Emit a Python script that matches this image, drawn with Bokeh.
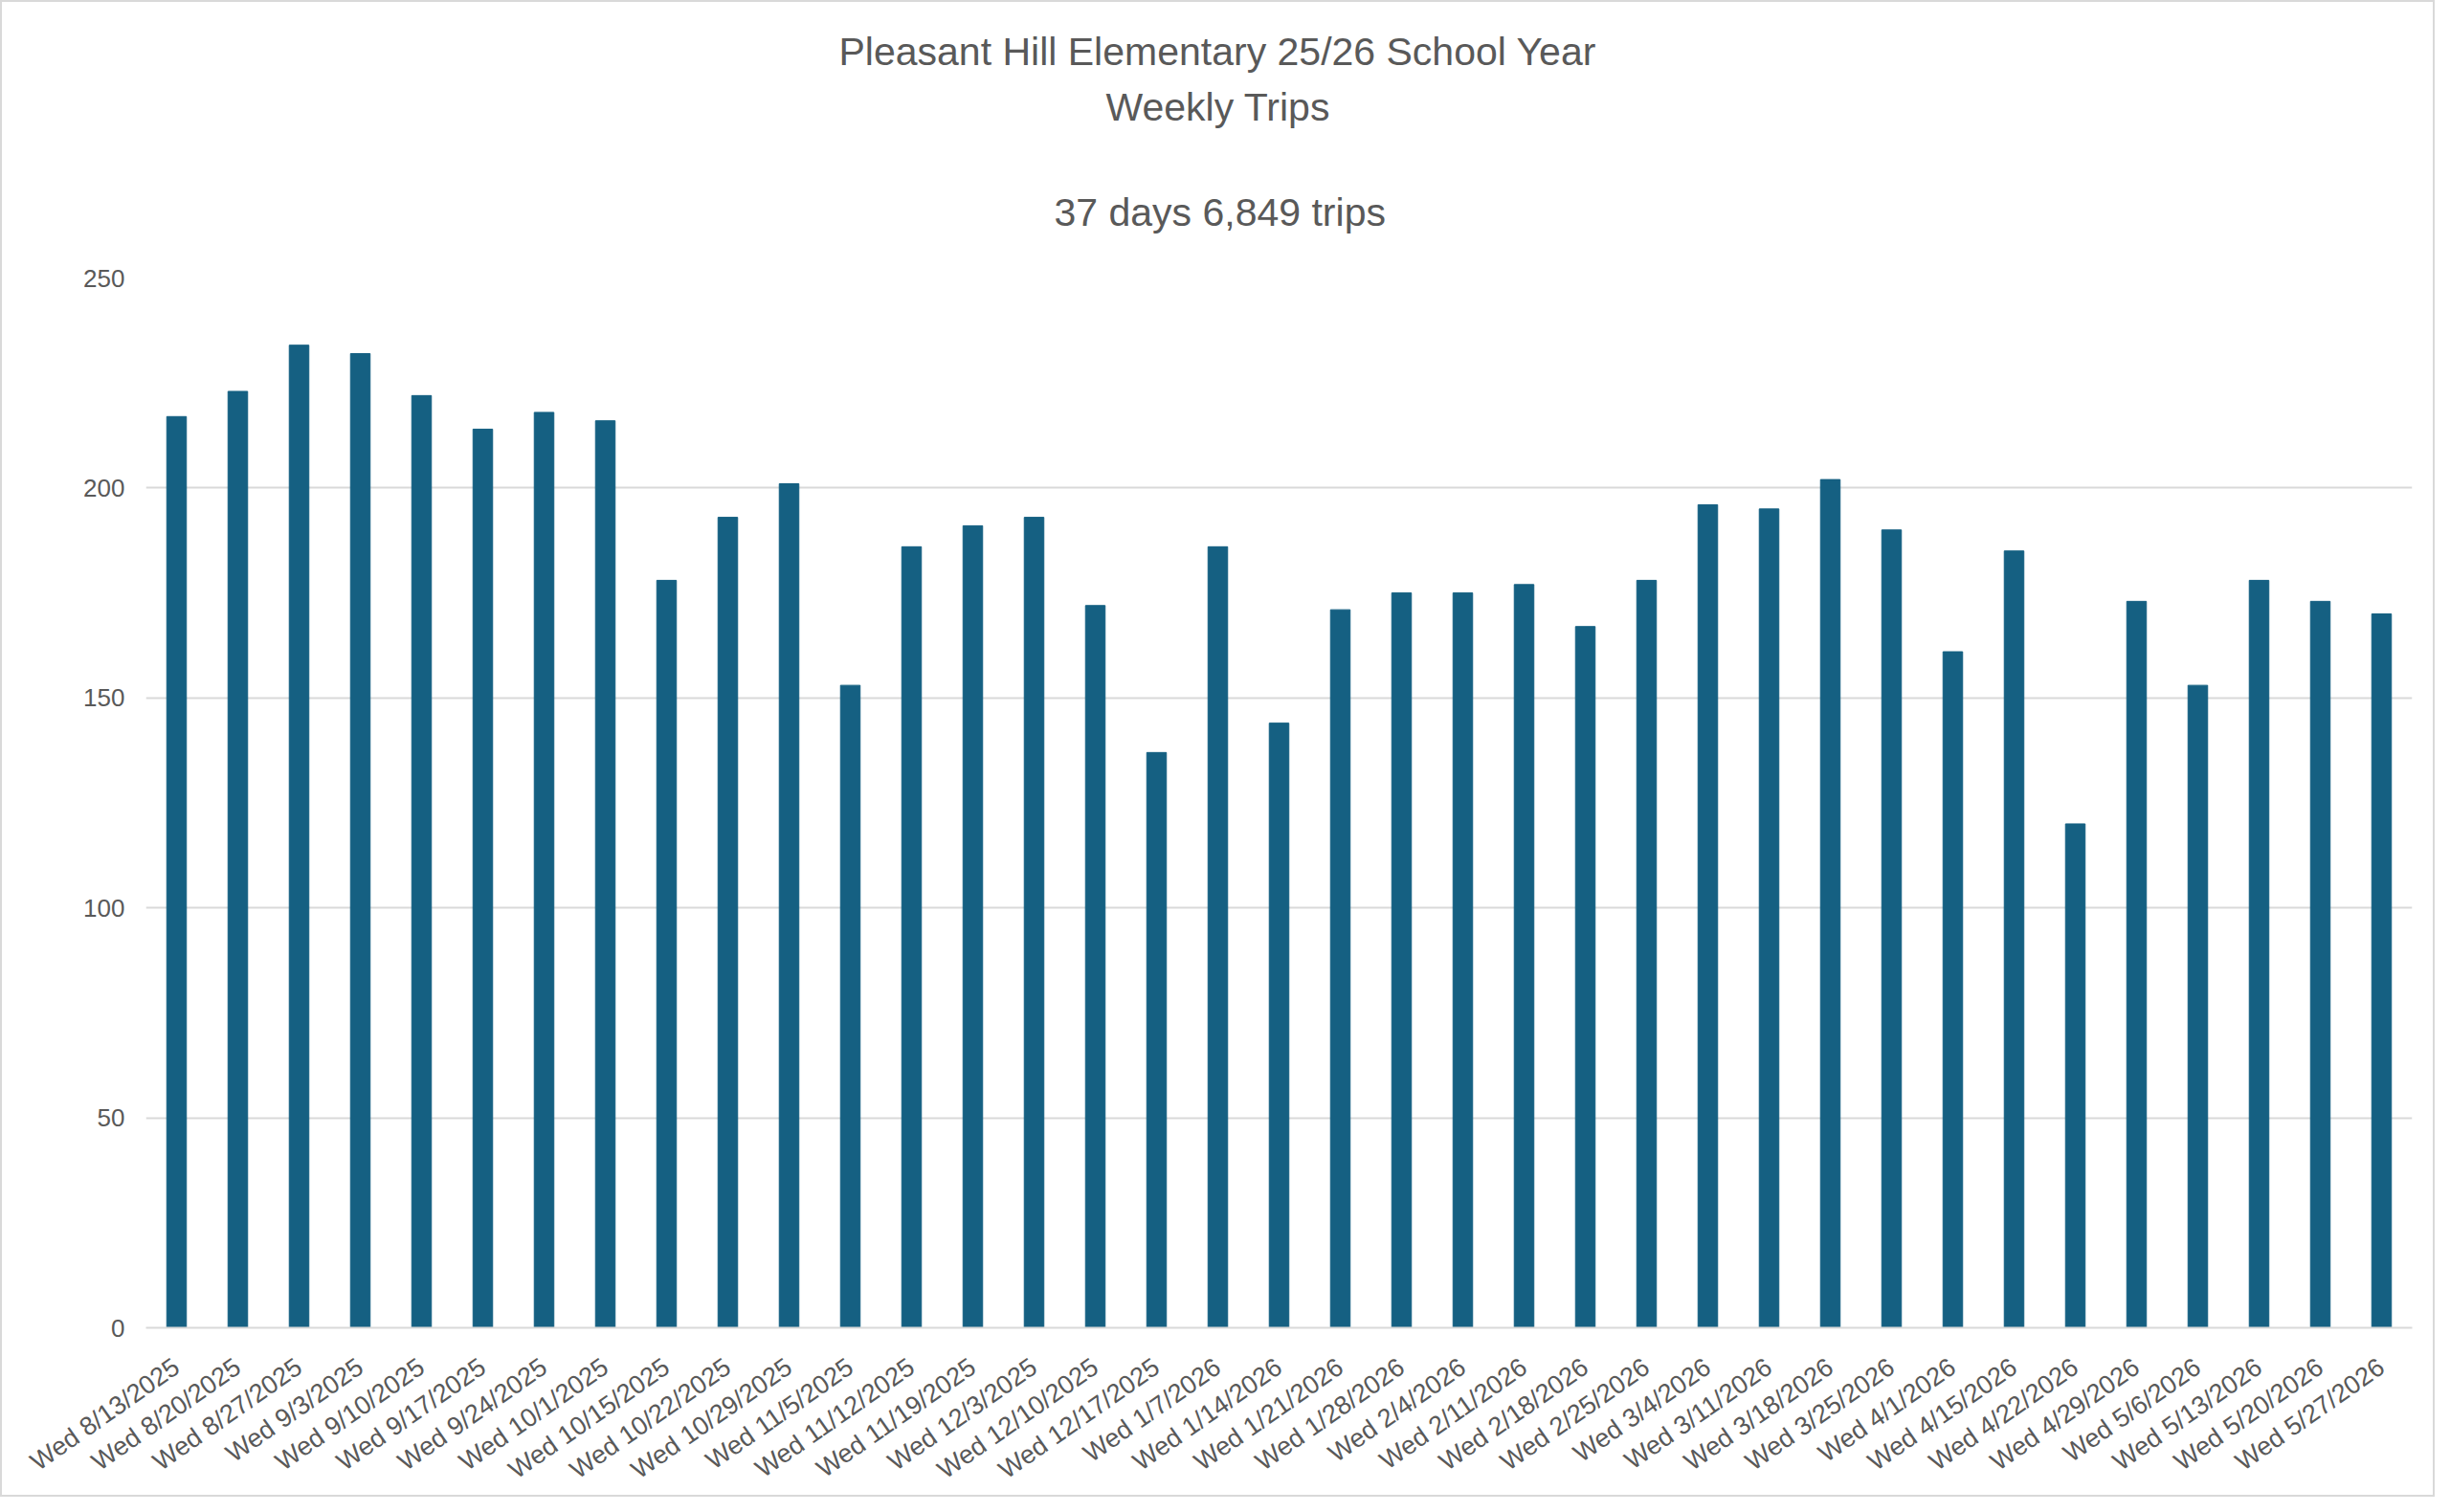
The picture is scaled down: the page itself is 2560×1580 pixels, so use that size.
import math

from bokeh.plotting import figure
from bokeh.models import FactorRange, Range1d, SingleIntervalTicker, Title
from bokeh.embed import file_html
from bokeh.resources import INLINE

title_main = "Pleasant Hill Elementary 25/26 School Year"
title_sub = "Weekly Trips"
title_total = "37 days 6,849 trips"

weeks = ["Wed 8/13/2025", "Wed 8/20/2025", "Wed 8/27/2025", "Wed 9/3/2025", "Wed 9/10/2025",
         "Wed 9/17/2025", "Wed 9/24/2025", "Wed 10/1/2025", "Wed 10/15/2025", "Wed 10/22/2025",
         "Wed 10/29/2025", "Wed 11/5/2025", "Wed 11/12/2025", "Wed 11/19/2025", "Wed 12/3/2025",
         "Wed 12/10/2025", "Wed 12/17/2025", "Wed 1/7/2026", "Wed 1/14/2026", "Wed 1/21/2026",
         "Wed 1/28/2026", "Wed 2/4/2026", "Wed 2/11/2026", "Wed 2/18/2026", "Wed 2/25/2026",
         "Wed 3/4/2026", "Wed 3/11/2026", "Wed 3/18/2026", "Wed 3/25/2026", "Wed 4/1/2026",
         "Wed 4/15/2026", "Wed 4/22/2026", "Wed 4/29/2026", "Wed 5/6/2026", "Wed 5/13/2026",
         "Wed 5/20/2026", "Wed 5/27/2026"]

trips = [217, 223, 234, 232, 222, 214, 218, 216, 178, 193,
         201, 153, 186, 191, 193, 172, 137, 186, 144, 171,
         175, 175, 177, 167, 178, 196, 195, 202, 190, 161,
         185, 120, 173, 153, 178, 173, 170]

font = "Liberation Sans"
grey = "#595959"

p = figure(x_range=FactorRange(*weeks, range_padding=0), y_range=Range1d(0, 250),
           width=2544, height=1564, output_backend="svg", toolbar_location=None,
           min_border_left=150, min_border_right=26, min_border_top=288, min_border_bottom=175)

# titles stack outward from the plot (closest first); left-aligned with an offset
# so that each line sits centred on the whole chart rather than on the plot area
for txt, gap, shift in [(title_total, 92, 949), (title_sub, 32, 1003), (title_main, -12, 724)]:
    p.add_layout(Title(text=txt, align="left", offset=shift, text_font=font,
                       text_font_size="41px", text_color=grey, text_font_style="normal",
                       standoff=gap), "above")

p.vbar(x=weeks, top=trips, width=0.32, color="#156082")

p.outline_line_color = None
p.xgrid.grid_line_color = None
p.ygrid.grid_line_color = "#d9d9d9"
p.ygrid.grid_line_width = 2

p.yaxis.ticker = SingleIntervalTicker(interval=50)
p.yaxis.axis_line_color = None
p.yaxis.major_tick_line_color = None
p.yaxis.minor_tick_line_color = None
p.yaxis.major_label_standoff = 16

p.xaxis.axis_line_color = "#d9d9d9"
p.xaxis.axis_line_width = 2
p.xaxis.major_tick_line_color = None
p.xaxis.major_label_orientation = math.radians(35)
p.xaxis.major_label_standoff = 32
p.xaxis.major_label_text_font_size = "27px"
p.yaxis.major_label_text_font_size = "26px"

for ax in (p.xaxis, p.yaxis):
    ax.major_label_text_font = font
    ax.major_label_text_color = grey

p.styles = {"border": "2px solid #d9d9d9"}

open("out.html", "w").write(file_html(p, INLINE))
